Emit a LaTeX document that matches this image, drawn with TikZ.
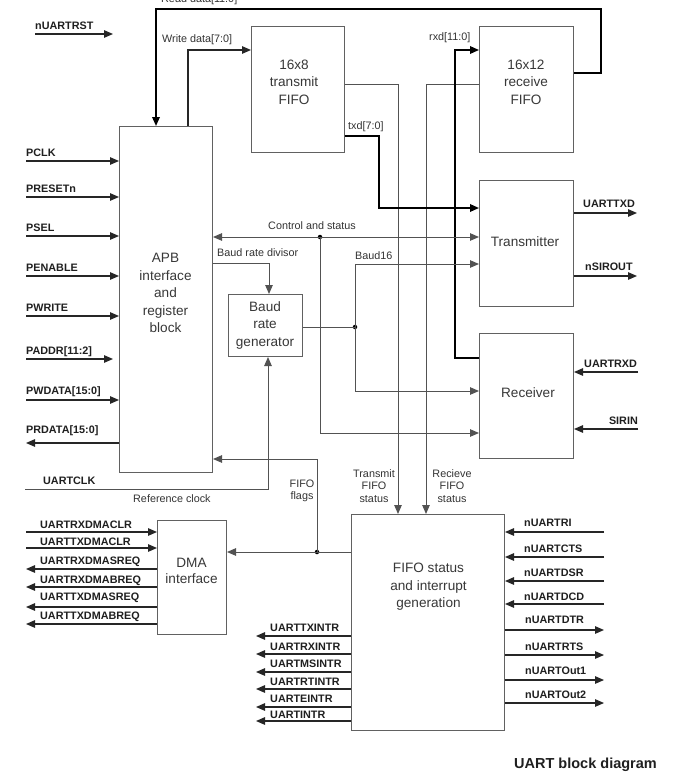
\documentclass[tikz,border=0pt]{standalone}
\usepackage{fontspec}
\setmainfont{Liberation Sans}
\usetikzlibrary{arrows.meta}
\begin{document}
\begin{tikzpicture}[x=1pt,y=-1pt,
  box/.style={draw=black!62, line width=1pt, fill=white, inner sep=0pt, anchor=north west},
  boxtext/.style={align=center, font=\fontsize{13.6}{17.5}\selectfont, text=black!78, inner sep=0pt},
  ln/.style={draw=black!68, line width=1pt},
  sigl/.style={draw=black!85, line width=1.2pt},
  bus/.style={draw=black, line width=1.7pt},
  arr/.style={-{Triangle[length=9pt,width=7.5pt]}},
  lab/.style={font=\fontsize{10.8}{12.5}\selectfont, text=black!80, inner sep=0pt},
  sig/.style={font=\bfseries\fontsize{10.8}{12}\selectfont, text=black!88, inner sep=0pt, anchor=west},
  jdot/.style={circle, fill=black, inner sep=0pt, minimum size=4.5pt}]
\useasboundingbox[fill=white] (0,0) rectangle (684,779);

% ---------- boxes ----------
\node[box, minimum width=93pt, minimum height=346pt] (apb) at (119,126) {};
\node[box, minimum width=93pt, minimum height=126pt] (tfifo) at (251,26) {};
\node[box, minimum width=94pt, minimum height=126pt] (rfifo) at (479,26) {};
\node[box, minimum width=94pt, minimum height=126pt] (tx) at (479,180) {};
\node[box, minimum width=94pt, minimum height=125pt] (rx) at (479,333) {};
\node[box, minimum width=74pt, minimum height=62pt] (baud) at (228,294) {};
\node[box, minimum width=69pt, minimum height=114pt] (dma) at (157,520) {};
\node[box, minimum width=153pt, minimum height=216pt] (fifo) at (351,514) {};

\node[boxtext] (apbT) at (165.5,293) {APB\\interface\\and\\register\\block};
\node[boxtext] (tfifoT) at (294,82) {16x8\\transmit\\FIFO};
\node[boxtext] (rfifoT) at (526,82) {16x12\\receive\\FIFO};
\node[boxtext] (txT) at (525,242) {Transmitter};
\node[boxtext] (rxT) at (528,393) {Receiver};
\node[boxtext] (baudT) at (265,325) {Baud\\rate\\generator};
\node[boxtext, font=\fontsize{13.6}{16}\selectfont] (dmaT) at (191.5,571) {DMA\\interface};
\node[boxtext] (fifoT) at (428.5,587) {FIFO status\\and interrupt\\generation};

% ---------- bend / end coordinates ----------
\coordinate (rstA) at (35,34);   \coordinate (rstB) at (113,34);
\coordinate (rd1) at (601,73);   \coordinate (rd2) at (601,9);   \coordinate (rd3) at (156,9);
\coordinate (wd1) at (188,50);
\coordinate (tx1) at (379,136);  \coordinate (tx2) at (379,208);
\coordinate (ts1) at (398,84);   \coordinate (rs1) at (426,84);
\coordinate (rx1) at (455,358);  \coordinate (rx2) at (455,50);
\coordinate (cs2) at (320,433);
\coordinate (bd2) at (269,263);
\coordinate (b16) at (355,264);  \coordinate (b2) at (355,391);
\coordinate (clk0) at (25,489);  \coordinate (clk1) at (268,489);
\coordinate (ff1) at (317,459);
\node[jdot] (csdot) at (320,237) {};
\node[jdot] (bdot) at (355,327) {};
\node[jdot] (fdot) at (317,552) {};

% ---------- internal connectors ----------
\draw[bus,arr] (rfifo.east |- rd1) -- (rd1) -- (rd2) -- (rd3) -- (apb.north -| rd3);
\draw[sigl,arr] (apb.north -| wd1) -- (wd1) -- (tfifo.west |- wd1);
\draw[ln,arr] (tfifo.east |- ts1) -- (ts1) -- (fifo.north -| ts1);
\draw[ln,arr] (rfifo.west |- rs1) -- (rs1) -- (fifo.north -| rs1);
\draw[bus,arr] (tfifo.east |- tx1) -- (tx1) -- (tx2) -- (tx.west |- tx2);
\draw[bus,arr] (rx.west |- rx1) -- (rx1) -- (rx2) -- (rfifo.west |- rx2);
\draw[ln,arr] (csdot.center) -- (apb.east |- csdot);
\draw[ln,arr] (csdot.center) -- (tx.west |- csdot);
\draw[ln,arr] (csdot.center) -- (cs2) -- (rx.west |- cs2);
\draw[ln,arr] (apb.east |- bd2) -- (bd2) -- (baud.north -| bd2);
\draw[ln] (baud.east |- bdot) -- (bdot.center);
\draw[ln,arr] (bdot.center) -- (b16) -- (tx.west |- b16);
\draw[ln,arr] (bdot.center) -- (b2) -- (rx.west |- b2);
\draw[ln,arr] (clk0) -- (clk1) -- (baud.south -| clk1);
\draw[ln,arr] (fifo.west |- fdot) -- (dma.east |- fdot);
\draw[ln,arr] (fdot.center) -- (ff1) -- (apb.east |- ff1);

% ---------- internal labels ----------
\node[lab, anchor=west] (rdL) at (161,0) {Read data[11:0]};
\node[lab, anchor=west] (wdL) at (162,40) {Write data[7:0]};
\node[lab, anchor=west] (rxdL) at (429,38) {rxd[11:0]};
\node[lab, anchor=west] (txdL) at (348,127) {txd[7:0]};
\node[lab, anchor=west] (csL) at (268,226) {Control and status};
\node[lab, anchor=west] (bdL) at (217,253) {Baud rate divisor};
\node[lab, anchor=west] (b16L) at (355,256) {Baud16};
\node[lab, align=center] (tsL) at (374,486) {Transmit\\FIFO\\status};
\node[lab, align=center] (rsL) at (452,486) {Recieve\\FIFO\\status};
\node[lab, align=center] (ffL) at (302,491) {FIFO\\flags};
\node[lab, anchor=west] (refL) at (133,499) {Reference clock};

% ---------- external signals ----------
\draw[sigl,arr] (rstA) -- (rstB);
\node[sig] (rstL) at (35,26) {nUARTRST};

\foreach \nm/\yy/\txt in {pclk/161/PCLK, preset/197/PRESETn, psel/236/PSEL, penable/276/PENABLE, pwrite/316/PWRITE, pwdata/400/PWDATA[15:0]}{
  \coordinate (\nm) at (26,\yy);
  \draw[sigl,arr] (\nm) -- (apb.west |- \nm);
  \node[sig] (\nm L) at (26,\yy-8) {\txt};
}
\coordinate (paddr) at (26,359); \coordinate (paddrE) at (113,359);
\draw[sigl,arr] (paddr) -- (paddrE);
\node[sig] (paddrL) at (26,352) {PADDR[11:2]};
\coordinate (prdata) at (26,443);
\draw[sigl,arr] (apb.west |- prdata) -- (prdata);
\node[sig] (prdataL) at (26,431) {PRDATA[15:0]};
\node[sig] (clkL) at (43,481) {UARTCLK};

% transmitter / receiver
\coordinate (utxd) at (637,213); \coordinate (nsir) at (637,276);
\draw[sigl,arr] (tx.east |- utxd) -- (utxd);
\draw[sigl,arr] (tx.east |- nsir) -- (nsir);
\node[sig] (utxdL) at (583,204) {UARTTXD};
\node[sig] (nsirL) at (585,267) {nSIROUT};
\coordinate (urxd) at (638,372); \coordinate (sirin) at (638,429);
\draw[sigl,arr] (urxd) -- (rx.east |- urxd);
\draw[sigl,arr] (sirin) -- (rx.east |- sirin);
\node[sig] (urxdL) at (584,364) {UARTRXD};
\node[sig, anchor=east] (sirinL) at (638,421) {SIRIN};

% DMA
\foreach \nm/\yy/\ly/\txt in {rxclr/532/525/UARTRXDMACLR, txclr/548/542/UARTTXDMACLR}{
  \coordinate (\nm) at (26,\yy);
  \draw[sigl,arr] (\nm) -- (dma.west |- \nm);
  \node[sig] (\nm L) at (40,\ly) {\txt};
}
\foreach \nm/\yy/\ly/\txt in {rxs/569/562/UARTRXDMASREQ, rxb/587/581/UARTRXDMABREQ, txs/607/598/UARTTXDMASREQ, txb/624/617/UARTTXDMABREQ}{
  \coordinate (\nm) at (26,\yy);
  \draw[sigl,arr] (dma.west |- \nm) -- (\nm);
  \node[sig] (\nm L) at (40,\ly) {\txt};
}

% FIFO status right
\foreach \nm/\yy/\ly/\txt in {ri/532/523/nUARTRI, cts/557/549/nUARTCTS, dsr/581/573/nUARTDSR, dcd/604/597/nUARTDCD}{
  \coordinate (\nm) at (604,\yy);
  \draw[sigl,arr] (\nm) -- (fifo.east |- \nm);
  \node[sig] (\nm L) at (524,\ly) {\txt};
}
\foreach \nm/\yy/\ly/\txt in {dtr/630/620/nUARTDTR, rts/655/647/nUARTRTS, outa/680/671/nUARTOut1, outb/703/695/nUARTOut2}{
  \coordinate (\nm) at (604,\yy);
  \draw[sigl,arr] (fifo.east |- \nm) -- (\nm);
  \node[sig] (\nm L) at (525,\ly) {\txt};
}
% FIFO status left
\foreach \nm/\yy/\ly/\txt in {txi/636/628/UARTTXINTR, rxi/654/647/UARTRXINTR, msi/672/664/UARTMSINTR, rti/689/682/UARTRTINTR, ei/707/699/UARTEINTR, ai/721/715/UARTINTR}{
  \coordinate (\nm) at (256,\yy);
  \draw[sigl,arr] (fifo.west |- \nm) -- (\nm);
  \node[sig] (\nm L) at (270,\ly) {\txt};
}

\node[sig, font=\bfseries\fontsize{14.5}{16}\selectfont] (cap) at (514,765) {UART block diagram};
\end{tikzpicture}
\end{document}
